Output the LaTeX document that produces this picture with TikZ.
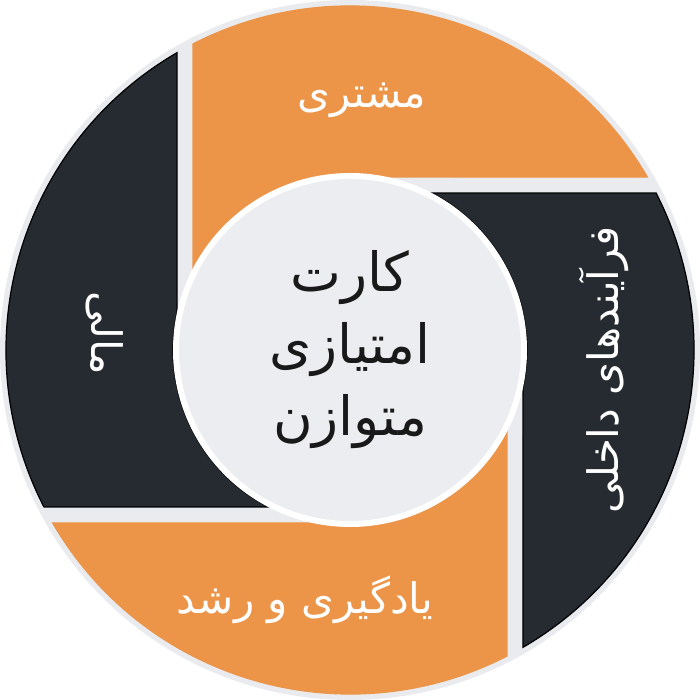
\documentclass[tikz,border=0pt]{standalone}
\usepackage{fontspec}
\usepackage{tikz}
\usetikzlibrary{positioning}
\TeXXeTstate=1
\newfontfamily\arabicfont[Script=Arabic]{DejaVu Sans}
\definecolor{bscorange}{HTML}{EC9447}
\definecolor{bscdark}{HTML}{262B31}
\definecolor{bscgray}{HTML}{ECEDF0}
\definecolor{bscring}{HTML}{E9EBEE}

\begin{document}
\begin{tikzpicture}[x=1pt,y=1pt,
    seglabel/.style={text=white, font=\arabicfont\fontsize{42}{48}\selectfont, inner sep=0pt},
    hub/.style={circle, fill=bscgray, draw=white, line width=6pt, minimum size=348pt, inner sep=0pt,
      align=center, text=black!90, font=\arabicfont\fontsize{54}{72}\selectfont}]
  \useasboundingbox (-350,-350) rectangle (350,350);
  \fill[bscring] (0,0) circle (350);
  % four quarters, each turned by 90 degrees
  \foreach \ang/\col/\edge in {0/bscorange/bscorange, -90/bscdark/black, -180/bscorange/bscorange, -270/bscdark/black}{
    \begin{scope}[rotate=\ang]
      \filldraw[fill=\col, draw=\edge, line width=1.2pt]
        (117.15:344) arc[start angle=117.15, end angle=30.19, radius=344]
        -- (77.8:177) arc[start angle=77.8, end angle=152.5, radius=177] -- cycle;
    \end{scope}
  }
  \node[hub] (bsc) at (0,0) {\beginR کارت\endR\\\beginR امتیازی\endR\\\beginR متوازن\endR};
  \node[seglabel] (customer) at (12,250) {\beginR مشتری\endR};
  \node[seglabel, rotate=90] (process) at (254,-20) {\beginR فرآیندهای داخلی\endR};
  \node[seglabel] (learning) at (-45,-250) {\beginR یادگیری و رشد\endR};
  \node[seglabel, rotate=-90] (finance) at (-245,17) {\beginR مالی\endR};
\end{tikzpicture}
\end{document}
